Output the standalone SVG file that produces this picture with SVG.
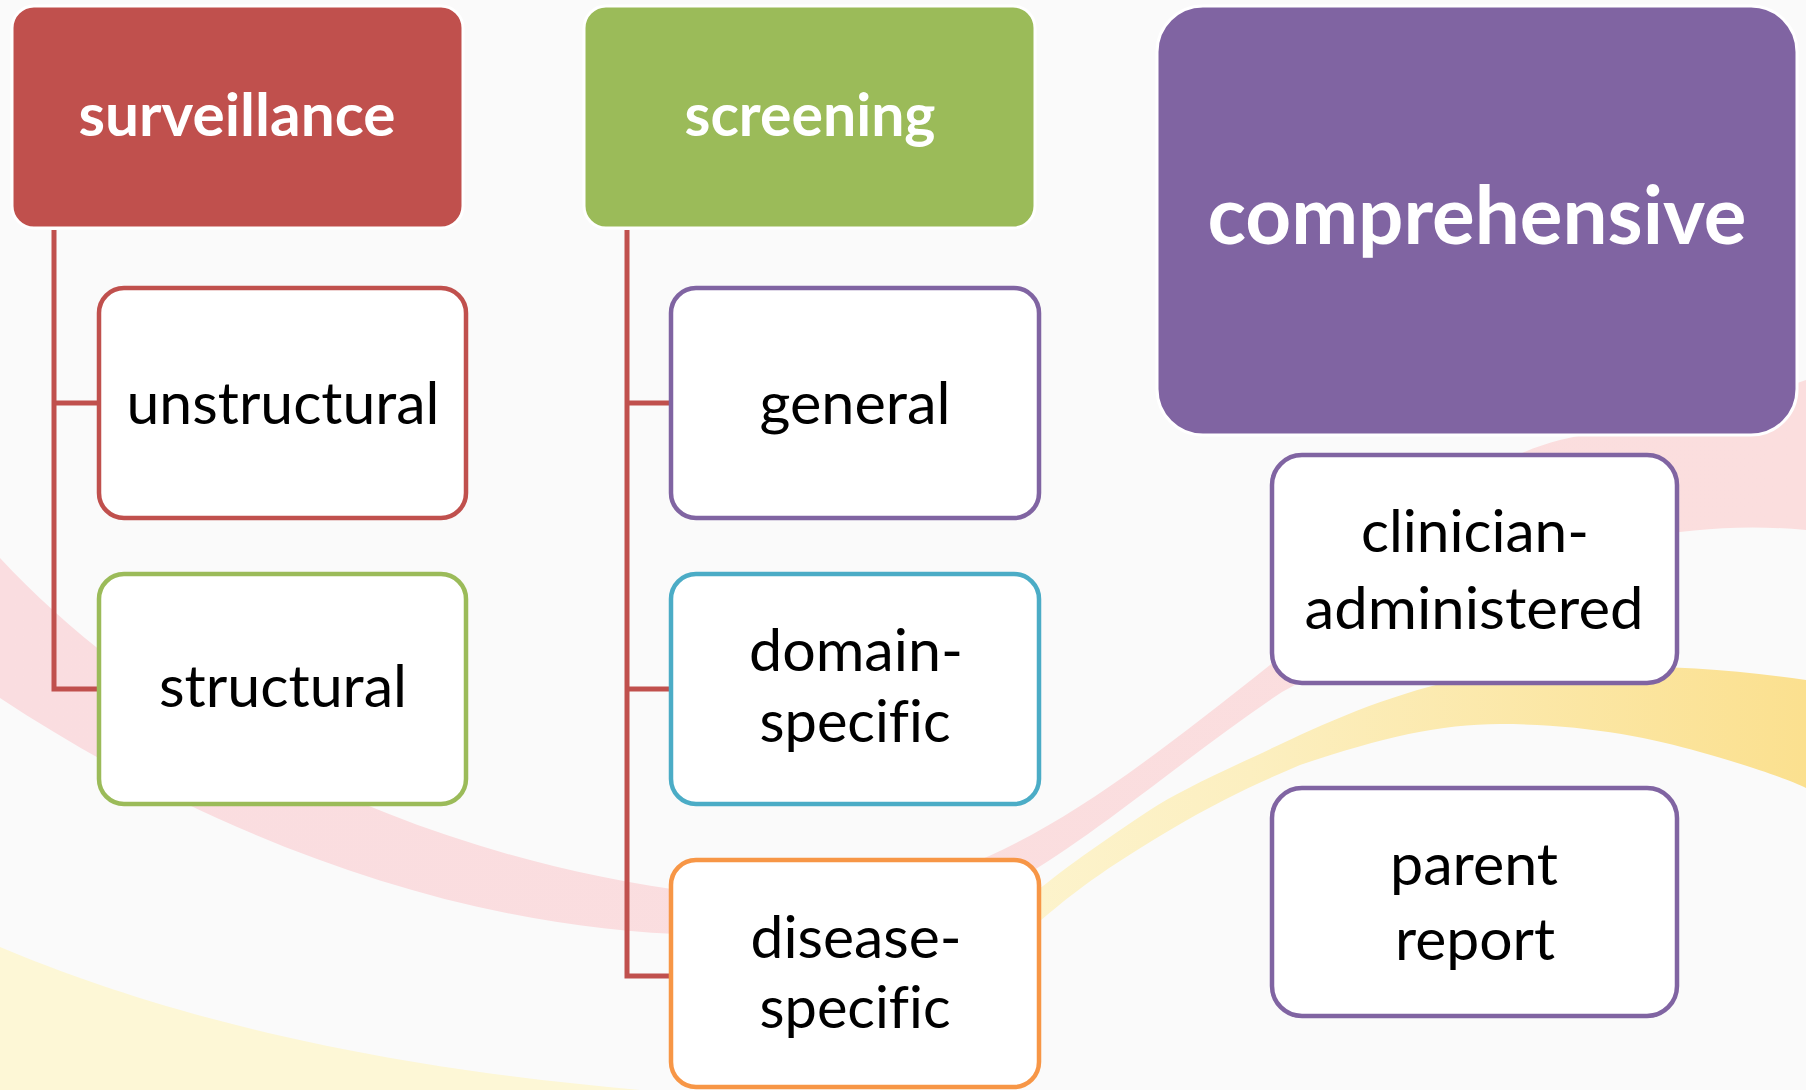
<svg xmlns="http://www.w3.org/2000/svg" width="1806" height="1090" viewBox="0 0 1806 1090">
<defs>
<style>
.hdr{stroke:#FFFFFF;stroke-width:3}
.box{fill:#FFFFFF;stroke-width:4.5}
.t{font-family:Lato,"Liberation Sans",sans-serif;font-size:58px;fill:#000000;text-anchor:middle;font-variant-ligatures:none;font-feature-settings:"liga" 0}
.th{font-family:Lato,"Liberation Sans",sans-serif;font-weight:bold;fill:#FFFFFF;text-anchor:middle;font-variant-ligatures:none}
.conn{fill:none;stroke:#C0504D;stroke-width:5;stroke-linejoin:miter}
</style>
<linearGradient id="yel" x1="0" y1="0" x2="1" y2="0">
<stop offset="0" stop-color="#FDF6D4"/>
<stop offset="0.4" stop-color="#FCEFC0"/>
<stop offset="1" stop-color="#FBE08F"/>
</linearGradient>
<linearGradient id="pnk" x1="0" y1="0" x2="1" y2="0">
<stop offset="0" stop-color="#FADDE0"/>
<stop offset="1" stop-color="#FBDEDE"/>
</linearGradient>
</defs>
<rect x="0" y="0" width="1806" height="1090" fill="#FAFAFA"/>
<g id="background">
<path d="M0 558 C150 720 400 855 700 893 C800 903 880 895 960 868 C1060 830 1150 760 1270 665 C1350 600 1440 470 1560 440 C1650 420 1750 400 1806 380 L1806 530 C1700 520 1600 540 1500 582 C1420 618 1340 660 1282 692 C1180 760 1080 850 990 895 C900 935 820 937 700 935 C450 930 200 830 0 698 Z" fill="url(#pnk)"/>
<path d="M0 947 C150 1010 350 1065 640 1090 L0 1090 Z" fill="#FDF7D6"/>
<path d="M1806 680 C1700 664 1580 662 1500 672 C1420 684 1360 708 1300 735 C1230 768 1180 790 1150 810 C1090 850 1055 875 1020 905 C960 960 920 1020 880 1090 L920 1090 C950 1030 990 975 1030 930 C1080 885 1120 860 1170 830 C1220 800 1260 782 1300 765 C1380 738 1440 724 1500 724 C1580 724 1650 737 1700 752 C1750 766 1790 780 1806 788 Z" fill="url(#yel)"/>
</g>
<g id="connectors">
<polyline class="conn" points="54,230 54,689 99,689"/>
<line class="conn" x1="54" y1="403" x2="99" y2="403"/>
<polyline class="conn" points="627,230 627,976 671,976"/>
<line class="conn" x1="627" y1="403" x2="671" y2="403"/>
<line class="conn" x1="627" y1="689" x2="671" y2="689"/>
</g>
<g id="surveillance">
<rect class="hdr" x="12" y="6" width="451" height="222" rx="22" fill="#C0504D"/>
<text class="th" x="237" y="136" font-size="60" textLength="317" lengthAdjust="spacingAndGlyphs">surveillance</text>
</g>
<g id="screening">
<rect class="hdr" x="584" y="6" width="451" height="222" rx="22" fill="#9BBB59"/>
<text class="th" x="810" y="136" font-size="60" textLength="251" lengthAdjust="spacingAndGlyphs">screening</text>
</g>
<g id="comprehensive">
<rect class="hdr" x="1157" y="6" width="640" height="429" rx="46" fill="#8064A2"/>
<text class="th" x="1477" y="244" font-size="80" textLength="539" lengthAdjust="spacingAndGlyphs">comprehensive</text>
</g>
<g id="unstructural">
<rect class="box" x="99" y="288" width="367" height="230" rx="25" stroke="#C0504D"/>
<text class="t" x="283" y="424" textLength="313" lengthAdjust="spacingAndGlyphs">unstructural</text>
</g>
<g id="structural">
<rect class="box" x="99" y="574" width="367" height="230" rx="25" stroke="#9BBB59"/>
<text class="t" x="283" y="707" textLength="248" lengthAdjust="spacingAndGlyphs">structural</text>
</g>
<g id="general">
<rect class="box" x="671" y="288" width="368" height="230" rx="25" stroke="#8064A2"/>
<text class="t" x="855" y="424" textLength="191" lengthAdjust="spacingAndGlyphs">general</text>
</g>
<g id="domain-specific">
<rect class="box" x="671" y="574" width="368" height="230" rx="25" stroke="#4BACC6"/>
<text class="t" x="856" y="671" textLength="214" lengthAdjust="spacingAndGlyphs">domain-</text>
<text class="t" x="855" y="742" textLength="191" lengthAdjust="spacingAndGlyphs">specific</text>
</g>
<g id="disease-specific">
<rect class="box" x="671" y="860" width="368" height="227" rx="25" stroke="#F79646"/>
<text class="t" x="856" y="958" textLength="211" lengthAdjust="spacingAndGlyphs">disease-</text>
<text class="t" x="855" y="1028" textLength="191" lengthAdjust="spacingAndGlyphs">specific</text>
</g>
<g id="clinician-administered">
<rect class="box" x="1272" y="455" width="405" height="228" rx="30" stroke="#8064A2"/>
<text class="t" x="1475" y="552" textLength="228" lengthAdjust="spacingAndGlyphs">clinician-</text>
<text class="t" x="1474" y="629" textLength="339" lengthAdjust="spacingAndGlyphs">administered</text>
</g>
<g id="parent-report">
<rect class="box" x="1272" y="788" width="405" height="228" rx="30" stroke="#8064A2"/>
<text class="t" x="1474" y="885" textLength="168" lengthAdjust="spacingAndGlyphs">parent</text>
<text class="t" x="1475" y="960" textLength="160" lengthAdjust="spacingAndGlyphs">report</text>
</g>
</svg>
